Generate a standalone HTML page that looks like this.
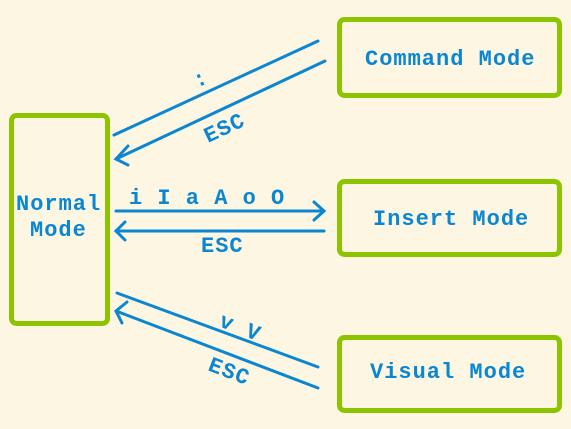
<!DOCTYPE html>
<html><head><meta charset="utf-8"><style>
html,body{margin:0;padding:0;background:#fcf6e3;}
svg{display:block}
text{font-family:"Liberation Mono",monospace;font-weight:bold;fill:#0a86d2;font-size:22px;letter-spacing:1px}
</style></head><body>
<svg width="571" height="429" viewBox="0 0 571 429" xmlns="http://www.w3.org/2000/svg">
<rect width="571" height="429" fill="#fcf6e3"/>
<g fill="none" stroke="#8cc400" stroke-width="5">
<rect x="11.5" y="115.5" width="96" height="208" rx="5"/>
<rect x="339.5" y="19.5" width="220" height="76" rx="5"/>
<rect x="339.5" y="181.5" width="220" height="73" rx="5"/>
<rect x="339.5" y="337.5" width="220" height="73" rx="5"/>
</g>
<g stroke="#0a86d2" stroke-width="3" fill="none" stroke-linecap="round">
<line x1="114" y1="135" x2="318" y2="41"/>
<line x1="325" y1="61" x2="116" y2="159"/>
<polyline points="128,146 116,159 128,165"/>
<line x1="116" y1="211" x2="324" y2="211"/>
<polyline points="314,202 324,211 314,220"/>
<line x1="324" y1="231" x2="116" y2="231"/>
<polyline points="125,222 116,231 125,240"/>
<line x1="117" y1="293" x2="318" y2="367"/>
<line x1="318" y1="388" x2="116" y2="311"/>
<polyline points="127,302 116,311 122,323"/>
</g>
<text x="365" y="65">Command Mode</text>
<text x="373" y="225">Insert Mode</text>
<text x="370" y="378">Visual Mode</text>
<text x="16" y="210">Normal</text>
<text x="30" y="236">Mode</text>
<text x="129" y="204">i I a A o O</text>
<text x="201" y="252">ESC</text>
<text x="0" y="0" transform="translate(197,88) rotate(-25)">:</text>
<text x="0" y="0" transform="translate(208,143) rotate(-25)">ESC</text>
<text x="0" y="0" transform="translate(218,326) rotate(21)">v V</text>
<text x="0" y="0" transform="translate(207,370) rotate(21)">ESC</text>
</svg>
</body></html>
